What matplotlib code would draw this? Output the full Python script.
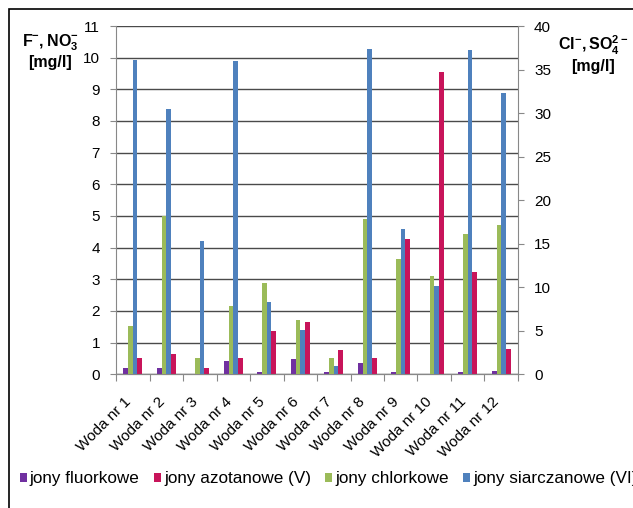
import matplotlib.pyplot as plt
import numpy as np
from matplotlib.patches import Rectangle
from matplotlib.transforms import ScaledTranslation

plt.rcParams['font.family'] = 'Liberation Sans'
plt.rcParams['mathtext.fontset'] = 'custom'
plt.rcParams['mathtext.rm'] = 'Liberation Sans'
plt.rcParams['mathtext.bf'] = 'Liberation Sans:bold'

# ion concentrations per water sample
woda = ['Woda nr %d' % i for i in range(1, 13)]
fluorkowe = [0.21, 0.21, 0.01, 0.43, 0.07, 0.49, 0.07, 0.36, 0.07, 0.0, 0.08, 0.10]
azotanowe = [0.52, 0.63, 0.19, 0.52, 1.36, 1.64, 0.76, 0.52, 4.27, 9.55, 3.22, 0.80]
chlorkowe = [5.6, 18.2, 1.9, 7.8, 10.5, 6.2, 1.9, 17.8, 13.2, 11.3, 16.1, 17.1]
siarczanowe = [36.1, 30.5, 15.3, 36.0, 8.3, 5.1, 0.9, 37.4, 16.7, 10.15, 37.3, 32.3]

c_f = '#7030A0'
c_az = '#C8145A'
c_cl = '#9BBB59'
c_so = '#4F81BD'

fig = plt.figure(figsize=(6.33, 5.08), dpi=100)
ax = fig.add_axes([0.1833, 0.2632, 0.635, 0.6856])
ax2 = ax.twinx()

x = np.arange(len(woda))
w = 0.14
ax.bar(x - 1.5 * w, fluorkowe, w, color=c_f, label='jony fluorkowe', zorder=3)
ax.bar(x + 1.5 * w, azotanowe, w, color=c_az, label='jony azotanowe (V)', zorder=3)
ax2.bar(x - 0.5 * w, chlorkowe, w, color=c_cl, label='jony chlorkowe', zorder=3)
ax2.bar(x + 0.5 * w, siarczanowe, w, color=c_so, label='jony siarczanowe (VI)', zorder=3)

ax.set_xlim(-0.5, len(woda) - 0.5)
ax.set_ylim(0, 11)
ax.set_yticks(range(0, 12))
ax2.set_ylim(0, 40)
ax2.set_yticks(range(0, 41, 5))
ax.yaxis.grid(True, color='#4a4a4a', lw=1)
ax.set_axisbelow(True)

# category ticks at group boundaries, labels at centres
ax.set_xticks(np.arange(-0.5, len(woda)), minor=False)
ax.set_xticklabels([])
ax.set_xticks(x, minor=True)
ax.set_xticklabels(woda, minor=True, rotation=45, ha='right', va='center',
                   rotation_mode='anchor', fontsize=11)
ax.tick_params(axis='x', which='major', length=5, color='#888888')
ax.tick_params(axis='x', which='minor', length=0, pad=18)
shift = ScaledTranslation(-4 / 100, 0, fig.dpi_scale_trans)
for lab in ax.get_xticklabels(minor=True):
    lab.set_transform(lab.get_transform() + shift)

for a in (ax, ax2):
    a.tick_params(axis='y', length=4, color='#888888', labelsize=11, pad=7.5)
    a.spines['top'].set_visible(False)
    for s in ('left', 'right', 'bottom'):
        a.spines[s].set_color('#888888')
ax.spines['right'].set_visible(False)
ax2.spines['left'].set_visible(False)

fig.text(50 / 633, 1 - 43 / 508, r'$\mathbf{F^{-}, NO_3^{-}}$', ha='center', va='center', fontsize=11.5)
fig.text(50 / 633, 1 - 62 / 508, '[mg/l]', ha='center', va='center', fontsize=11.5, fontweight='bold')
fig.text(593 / 633, 1 - 45 / 508, r'$\mathbf{Cl^{-}, SO_4^{2-}}$', ha='center', va='center', fontsize=11.5)
fig.text(593 / 633, 1 - 66 / 508, '[mg/l]', ha='center', va='center', fontsize=11.5, fontweight='bold')

h1, l1 = ax.get_legend_handles_labels()
h2, l2 = ax2.get_legend_handles_labels()
fig.legend(h1 + h2, l1 + l2, loc='center left', bbox_to_anchor=(20 / 633, 1 - 479 / 508),
           ncol=4, frameon=False, fontsize=12.3, handlelength=0.4, handleheight=0.45,
           handletextpad=0.18, columnspacing=0.84, borderaxespad=0, borderpad=0)

# outer chart frame
fig.patches.append(Rectangle((9 / 633, -0.1), 1.2, 1 - 9 / 508 + 0.1, transform=fig.transFigure,
                             fill=False, edgecolor='black', lw=1.2))

fig.savefig('out.png', dpi=100)
